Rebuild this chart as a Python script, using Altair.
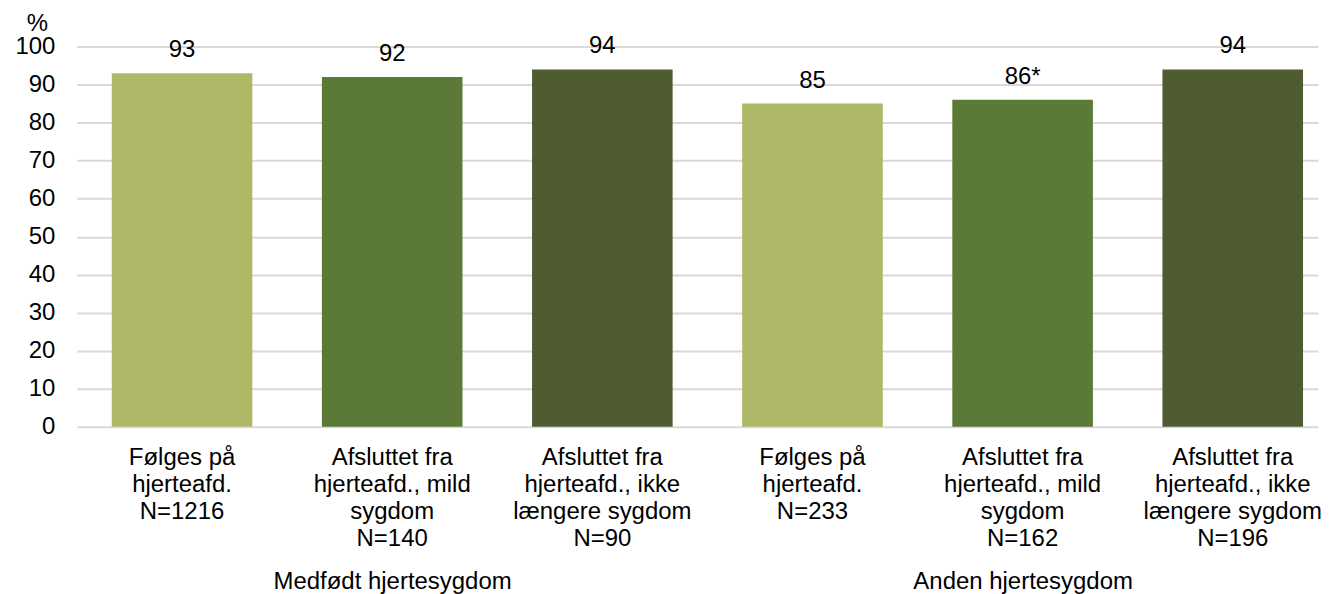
import altair as alt
import pandas as pd

groups = ["Medfødt hjertesygdom"] * 3 + ["Anden hjertesygdom"] * 3
categories = [
    "Følges på|hjerteafd.|N=1216",
    "Afsluttet fra|hjerteafd., mild|sygdom|N=140",
    "Afsluttet fra|hjerteafd., ikke|længere sygdom|N=90",
    "Følges  på|hjerteafd.|N=233",
    "Afsluttet fra|hjerteafd., mild|sygdom|N=162",
    "Afsluttet fra|hjerteafd., ikke|længere sygdom|N=196",
]
values = [93, 92, 94, 85, 86, 94]
value_labels = ["93", "92", "94", "85", "86*", "94"]
kinds = ["Følges", "Mild", "Ikke længere"] * 2
y_ticks = [0, 10, 20, 30, 40, 50, 60, 70, 80, 90, 100]

kind_domain = ["Følges", "Mild", "Ikke længere"]
kind_colors = ["#AEB866", "#5B7A37", "#4F5B31"]
group_order = ["Medfødt hjertesygdom", "Anden hjertesygdom"]

df = pd.DataFrame({
    "group": groups,
    "cat": categories,
    "value": values,
    "label": value_labels,
    "kind": kinds,
})
df_groups = pd.DataFrame({"group": group_order})

FONT = "Liberation Sans"
FS = 24

x_enc = alt.X(
    "cat:N",
    sort=categories,
    title=None,
    scale=alt.Scale(paddingInner=0.331, paddingOuter=0.1187, align=0.7),
    axis=alt.Axis(
        labelExpr="split(datum.label, '|')",
        labelAngle=0,
        labelFontSize=FS,
        labelLineHeight=27,
        labelPadding=19,
        labelLimit=400,
        labelColor="#000000",
        labelFont=FONT,
        domain=False,
        ticks=False,
        grid=False,
    ),
)

y_enc = alt.Y(
    "value:Q",
    scale=alt.Scale(domain=[0, 100], nice=False),
    axis=alt.Axis(
        values=y_ticks,
        labelOverlap=False,
        title="%",
        titleAngle=0,
        titleX=-40,
        titleY=-16,
        titleAlign="center",
        titleBaseline="alphabetic",
        titleFontSize=FS,
        titleFontWeight="normal",
        titleFont=FONT,
        titleColor="#000000",
        labelFontSize=FS,
        labelFont=FONT,
        labelColor="#000000",
        labelPadding=22,
        domain=False,
        ticks=False,
        grid=True,
        gridColor="#D9D9D9",
        gridWidth=2,
    ),
)

base = alt.Chart(df).encode(x=x_enc, y=y_enc)

bars = base.mark_bar().encode(
    color=alt.Color("kind:N", scale=alt.Scale(domain=kind_domain, range=kind_colors), legend=None),
)

text = base.mark_text(
    baseline="alphabetic", dy=-16, fontSize=FS, font=FONT, color="#000000"
).encode(
    text="label:N",
)

group_axis_layer = alt.Chart(df_groups).mark_point(opacity=0).encode(
    x=alt.X(
        "group:N",
        sort=group_order,
        title=None,
        scale=alt.Scale(type="point", padding=0.4842, align=0.5163),
        axis=alt.Axis(
            orient="bottom",
            labelAngle=0,
            labelFontSize=FS,
            labelFont=FONT,
            labelColor="#000000",
            labelPadding=143,
            labelLimit=600,
            labelBaseline="top",
            domain=False,
            ticks=False,
            grid=False,
        ),
    ),
)

chart = (
    alt.layer(alt.layer(bars, text), group_axis_layer)
    .resolve_scale(x="independent")
    .properties(width=1244, height=381)
    .configure_view(stroke=None)
    .configure_axis(labelOverlap=False)
    .properties(padding={"left": 6, "top": 3, "right": 0, "bottom": 0})
)

chart.save("out.html", embed_options={"renderer": "svg", "actions": False})
